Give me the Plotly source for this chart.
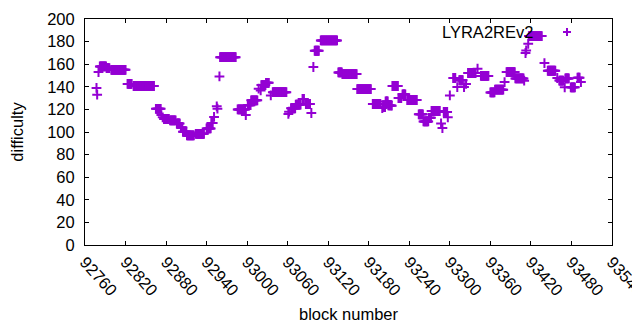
import plotly.graph_objects as go

# Runs of constant difficulty: first block, last block, difficulty
run_start = [92777, 92778, 92780, 92782, 92792, 92799, 92823, 92832, 92865, 92873,
             92875, 92877, 92886, 92896, 92902, 92905, 92911, 92924, 92940, 92947,
             92951, 92955, 92956, 92959, 92960, 92986, 92998, 93001, 93006, 93017,
             93020, 93021, 93028, 93035, 93038, 93061, 93062, 93065, 93072, 93082,
             93087, 93095, 93098, 93100, 93109, 93135, 93141, 93163, 93186, 93200,
             93201, 93205, 93209, 93214, 93215, 93224, 93230, 93237, 93254, 93261,
             93269, 93273, 93287, 93289, 93291, 93297, 93300, 93305, 93311, 93314,
             93321, 93324, 93327, 93341, 93346, 93360, 93367, 93381, 93384, 93397,
             93410, 93412, 93413, 93416, 93417, 93440, 93445, 93459, 93462, 93470,
             93471, 93479, 93489, 93494]
run_end = [92777, 92778, 92780, 92791, 92796, 92820, 92829, 92862, 92872, 92873,
           92875, 92884, 92894, 92900, 92904, 92910, 92921, 92936, 92946, 92949,
           92951, 92955, 92956, 92959, 92983, 92997, 92998, 93005, 93015, 93017,
           93020, 93027, 93032, 93035, 93058, 93061, 93062, 93071, 93079, 93084,
           93093, 93095, 93098, 93106, 93133, 93140, 93162, 93183, 93197, 93200,
           93204, 93208, 93213, 93214, 93223, 93228, 93234, 93251, 93260, 93268,
           93272, 93285, 93287, 93289, 93296, 93297, 93300, 93308, 93311, 93319,
           93321, 93324, 93338, 93341, 93357, 93366, 93379, 93381, 93396, 93409,
           93410, 93412, 93413, 93416, 93436, 93440, 93456, 93459, 93468, 93470,
           93476, 93485, 93492, 93494]
run_value = [139, 133, 153, 158, 156.5, 155, 142.5, 140.7, 120.5, 115,
             113, 111.5, 110.3, 107.5, 104, 100.3, 97, 98.4, 103.2, 108,
             113.3, 122.7, 120.6, 149.2, 166.2, 120, 115, 123.7, 128, 138.3,
             136.8, 141.5, 143.5, 132.4, 135.2, 116, 118, 121, 124.2, 129.3,
             124.8, 116.8, 157.5, 171.9, 181, 152.7, 151.3, 138, 124.8, 121.2,
             122, 127, 123.5, 123.3, 140.7, 130, 133.3, 128.3, 115.6, 109.4,
             112.5, 118.6, 107.6, 103.5, 117.8, 113, 132.4, 147.8, 139.8, 145.8,
             139.8, 142.5, 152.2, 156, 149.6, 135, 137.5, 144.2, 153, 147.4,
             145.4, 169.9, 172.2, 178.1, 184.9, 161, 154.2, 147.8, 145.5, 139.5,
             147.4, 139.5, 148.1, 144.2]

x_ticks = [92760, 92820, 92880, 92940, 93000, 93060, 93120, 93180, 93240,
           93300, 93360, 93420, 93480, 93540]
y_ticks = [0, 20, 40, 60, 80, 100, 120, 140, 160, 180, 200]
series_name = "LYRA2REv2"

blocks, diffs = [], []
for s, e, v in zip(run_start, run_end, run_value):
    for b in range(s, e + 1):
        blocks.append(b)
        diffs.append(v)

PURPLE = "#9400D3"
FONT = "Liberation Sans"
FS = 16.5
OFF = 8  # page body margin offset

fig = go.Figure()
fig.add_trace(go.Scatter(
    x=blocks, y=diffs, mode="markers", name=series_name,
    marker=dict(symbol="cross-thin", size=7, color=PURPLE,
                line=dict(color=PURPLE, width=2)),
    showlegend=False,
))

axis_common = dict(showline=True, linecolor="black", linewidth=1, mirror="ticks",
                   ticks="inside", ticklen=4, tickcolor="black", showgrid=False,
                   zeroline=False, automargin=False,
                   tickfont=dict(family=FONT, size=FS, color="black"))

fig.update_layout(
    width=640, height=330,
    margin=dict(l=85 - OFF, r=28 + OFF, t=19 - OFF, b=85 + OFF),
    paper_bgcolor="white", plot_bgcolor="white",
    font=dict(family=FONT, size=FS, color="black"),
    xaxis=dict(range=[x_ticks[0], x_ticks[-1]], tickvals=x_ticks,
               ticktext=[str(t) for t in x_ticks], tickangle=48,
               title=dict(text="block number", font=dict(family=FONT, size=FS), standoff=10),
               **axis_common),
    yaxis=dict(range=[y_ticks[0], y_ticks[-1]], tickvals=y_ticks,
               ticktext=[str(t) for t in y_ticks], ticklabelstandoff=6,
               title=dict(text="difficulty", font=dict(family=FONT, size=FS), standoff=19),
               **axis_common),
)

# gnuplot-style key: text then sample marker, top right
fig.add_annotation(xref="paper", yref="paper", x=(535 - 85) / 527, y=(245 - 32) / 226,
                   text=series_name, showarrow=False, xanchor="right", yanchor="middle",
                   font=dict(family=FONT, size=FS, color="black"))
cx, cy = (567 - 85) / 527, (245 - 32) / 226
fig.add_shape(type="line", xref="paper", yref="paper", x0=cx - 4 / 527, x1=cx + 4 / 527,
              y0=cy, y1=cy, line=dict(color=PURPLE, width=2))
fig.add_shape(type="line", xref="paper", yref="paper", x0=cx, x1=cx,
              y0=cy - 4 / 226, y1=cy + 4 / 226, line=dict(color=PURPLE, width=2))

fig.write_html("out.html")
